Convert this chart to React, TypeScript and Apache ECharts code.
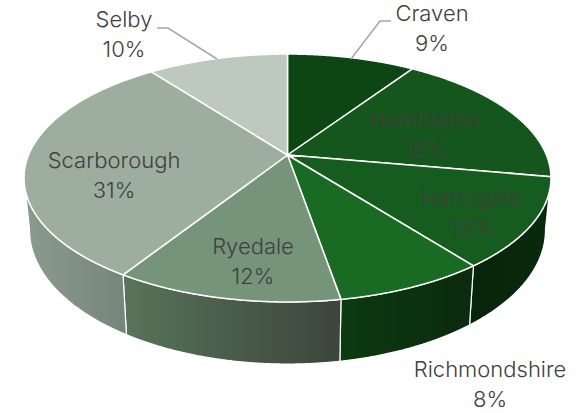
import React, { useEffect, useRef } from "react";
import * as echarts from "echarts";

const categories = ["Craven", "Hambleton", "Harrogate", "Richmondshire", "Ryedale", "Scarborough", "Selby"];
const shares = [9.4, 18.4, 11.7, 7.8, 11.7, 30.7, 10.3];
const topColors = ["#0d4614", "#14561b", "#155c1e", "#196b24", "#75947a", "#9dae9f", "#bdc8bf"];
const wallFrom = ["#0a2e0e", "#0a2e0e", "#06240b", "#0b3a10", "#587459", "#8a9c8e", "#bdc8bf"];
const wallTo = ["#0a2e0e", "#0a2e0e", "#0a2a0e", "#0b2a0e", "#3c453c", "#76857b", "#bdc8bf"];
const labelAnchors = [
  [432, 28], [425, 134], [472, 212], [490, 384], [253, 261], [114, 175], [124, 34],
];
const labelFonts = ["#404040", "#404040", "#404040", "#404040", "#404040", "#404040", "#404040"];
const leaderLines: Record<number, number[][]> = {
  0: [[351, 59], [380, 21], [391, 21]],
  6: [[217, 59], [168, 28], [157, 28]],
};

const APEX = { x: 287.5, y: 155 };
const REACH_Y = 119.7;
const REACH_X = 258.9;
const TILT = 0.1855;
const TOP_RIM = { cx: 287.5, cy: 177, rx: 263.5, ry: 124 };
const BASE_RIM = { cx: 287.5, cy: 229, rx: 258, ry: 134 };

const total = shares.reduce((a, b) => a + b, 0);
const cumulative = shares.map((_, i) => shares.slice(0, i).reduce((a, b) => a + b, 0));

function rimPoint(theta: number) {
  const w = 1 + TILT * Math.cos(theta);
  return [APEX.x + (REACH_X * Math.sin(theta)) / w, APEX.y - (REACH_Y * Math.cos(theta)) / w];
}

function basePoint(p: number[]) {
  const u = (p[0] - TOP_RIM.cx) / TOP_RIM.rx;
  const v = (p[1] - TOP_RIM.cy) / TOP_RIM.ry;
  return [BASE_RIM.cx + BASE_RIM.rx * u, BASE_RIM.cy + BASE_RIM.ry * v];
}

function renderSlice(_: any, api: any) {
  const i = api.value(0);
  const value = api.value(1);
  const a0 = (cumulative[i] / total) * Math.PI * 2;
  const a1 = a0 + (value / total) * Math.PI * 2;
  const steps = Math.max(8, Math.ceil((a1 - a0) / 0.004));
  const arc: number[][] = [];
  for (let s = 0; s <= steps; s++) arc.push(rimPoint(a0 + ((a1 - a0) * s) / steps));
  const front = arc.filter((p) => p[1] >= TOP_RIM.cy);
  const children: any[] = [];
  if (front.length > 1) {
    children.push({
      type: "polygon",
      shape: { points: [...front, ...front.map(basePoint).reverse()] },
      style: {
        fill: new echarts.graphic.LinearGradient(0, 0, 1, 0, [
          { offset: 0, color: wallFrom[i] },
          { offset: 1, color: wallTo[i] },
        ]),
        stroke: "#ffffff",
        lineWidth: 1.2,
        lineJoin: "round",
      },
    });
  }
  children.push({
    type: "polygon",
    shape: { points: [[APEX.x, APEX.y], ...arc] },
    style: { fill: topColors[i], stroke: "#ffffff", lineWidth: 1.5, lineJoin: "round" },
  });
  return { type: "group", children };
}

function renderLabel(_: any, api: any) {
  const i = api.value(0);
  const value = api.value(1);
  const children: any[] = [];
  if (leaderLines[i]) {
    children.push({
      type: "polyline",
      shape: { points: leaderLines[i] },
      style: { fill: "none", stroke: "#a6a6a6", lineWidth: 1.5 },
    });
  }
  children.push({
    type: "text",
    x: labelAnchors[i][0],
    y: labelAnchors[i][1],
    style: {
      text: `${categories[i]}\n${Math.round((value / total) * 100)}%`,
      fill: labelFonts[i],
      font: '300 22px Inter',
      lineHeight: 29.5,
      align: "center",
      verticalAlign: "middle",
    },
  });
  return { type: "group", children };
}

export default function App() {
  const ref = useRef<HTMLDivElement>(null);
  useEffect(() => {
    const chart = echarts.init(ref.current!, undefined, { renderer: "svg" });
    const rows = categories.map((_, i) => [i, shares[i]]);
    chart.setOption({
      animation: false,
      backgroundColor: "#ffffff",
      series: [
        { type: "custom", coordinateSystem: "none", silent: true, renderItem: renderSlice, data: rows, z: 1 },
        { type: "custom", coordinateSystem: "none", silent: true, renderItem: renderLabel, data: rows, z: 2 },
      ],
    });
    return () => chart.dispose();
  }, []);
  return <div ref={ref} style={{ position: "fixed", left: 0, top: 0, width: 576, height: 413 }} />;
}
